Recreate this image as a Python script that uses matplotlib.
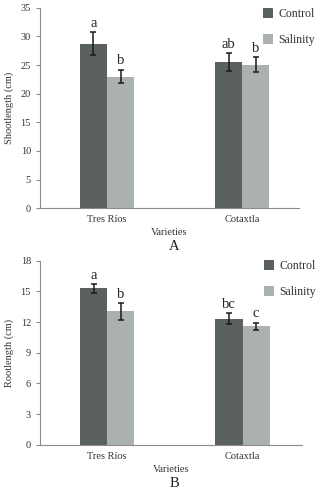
import matplotlib.pyplot as plt
import numpy as np

plt.rcParams['font.family'] = ['Liberation Serif', 'DejaVu Serif']

varieties = ['Tres Ríos', 'Cotaxtla']
treatments = ['Control', 'Salinity']

# Shoot length (cm)
shoot_control = [28.7, 25.5]
shoot_salinity = [23.0, 25.1]
shoot_control_err = [2.0, 1.6]
shoot_salinity_err = [1.2, 1.3]
shoot_letters_control = ['a', 'ab']
shoot_letters_salinity = ['b', 'b']

# Root length (cm)
root_control = [15.3, 12.35]
root_salinity = [13.05, 11.6]
root_control_err = [0.45, 0.5]
root_salinity_err = [0.8, 0.35]
root_letters_control = ['a', 'bc']
root_letters_salinity = ['b', 'c']

dark = '#5a6160'
light = '#aab1ae'
axcol = '#8c8c8c'

fig = plt.figure(figsize=(3.17, 4.91), dpi=100)


def panel(rect, ctrl, sal, ctrl_err, sal_err, let_c, let_s, ymax, step, ylabel, xlim_r, leg_xy):
    ax = fig.add_axes(rect)
    x = np.arange(len(varieties))
    w = 0.2
    ax.bar(x - w / 2, ctrl, w, color=dark, label=treatments[0])
    ax.bar(x + w / 2, sal, w, color=light, label=treatments[1])
    ax.errorbar(x - w / 2, ctrl, yerr=ctrl_err, fmt='none', ecolor='#1a1a1a',
                elinewidth=1.1, capsize=2.5, capthick=1.1)
    ax.errorbar(x + w / 2, sal, yerr=sal_err, fmt='none', ecolor='#1a1a1a',
                elinewidth=1.1, capsize=2.5, capthick=1.1)
    off = ymax * 0.012
    for i in range(len(varieties)):
        ax.text(x[i] - w / 2, ctrl[i] + ctrl_err[i] + off, let_c[i], ha='center',
                va='bottom', fontsize=10.5, color='#222222')
        ax.text(x[i] + w / 2, sal[i] + sal_err[i] + off, let_s[i], ha='center',
                va='bottom', fontsize=10.5, color='#222222')
    ax.set_xlim(-0.496, xlim_r)
    ax.set_ylim(0, ymax)
    ax.set_yticks(np.arange(0, ymax + 0.1, step))
    ax.set_xticks(x)
    ax.set_xticklabels(varieties)
    ax.tick_params(axis='x', length=0, labelsize=7.5, pad=5, colors='#333333')
    ax.tick_params(axis='y', length=3, labelsize=7.5, colors='#333333', color=axcol)
    for s in ['top', 'right']:
        ax.spines[s].set_visible(False)
    for s in ['left', 'bottom']:
        ax.spines[s].set_color(axcol)
        ax.spines[s].set_linewidth(0.8)
    ax.set_ylabel(ylabel, fontsize=7.5, color='#333333', labelpad=5)
    ax.set_xlabel('Varieties', fontsize=7.5, color='#333333', labelpad=3)
    ax.legend(loc='upper left', bbox_to_anchor=leg_xy, bbox_transform=fig.transFigure,
              frameon=False, fontsize=8.5, borderpad=0, borderaxespad=0,
              handlelength=0.85, handleheight=0.85, handletextpad=0.45, labelspacing=1.2,
              labelcolor='#333333')
    return ax


ax1 = panel([0.126, 0.576, 0.817, 0.408], shoot_control, shoot_salinity,
            shoot_control_err, shoot_salinity_err, shoot_letters_control,
            shoot_letters_salinity, 35, 5, 'Shootlength (cm)', 1.42,
            (263 / 317, 1 - 8 / 491))
fig.text(0.55, 0.497, 'A', ha='center', va='center', fontsize=10.5, color='#222222')

ax2 = panel([0.126, 0.094, 0.827, 0.375], root_control, root_salinity,
            root_control_err, root_salinity_err, root_letters_control,
            root_letters_salinity, 18, 3, 'Rootlength (cm)', 1.44,
            (264 / 317, 1 - 260 / 491))
fig.text(0.55, 0.016, 'B', ha='center', va='center', fontsize=10.5, color='#222222')

fig.savefig('out.png', dpi=100)
